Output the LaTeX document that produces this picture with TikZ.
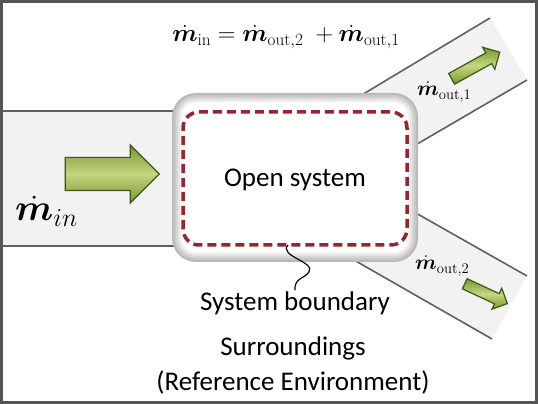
\RequirePackage{fix-cm}
\documentclass[tikz,border=0pt]{standalone}
\usepackage{fontspec}
\usepackage{bm}
\newfontfamily\calibri{Carlito}
\usetikzlibrary{shapes.arrows}
\definecolor{pipefill}{RGB}{242,242,242}
\definecolor{pipeline}{RGB}{95,95,95}
\definecolor{boundred}{RGB}{155,35,48}
\definecolor{arrowlight}{RGB}{196,214,128}
\definecolor{arrowdark}{RGB}{118,150,48}
\definecolor{arrowedge}{RGB}{62,86,22}
\definecolor{framegray}{RGB}{85,85,85}
\tikzset{
  pipe/.style={draw=pipeline, line width=1.6pt},
  flowarrow/.style={single arrow, draw=arrowedge, line width=1.2pt,
    top color=arrowdark, bottom color=arrowdark, middle color=arrowlight,
    inner xsep=0pt},
  txt/.style={font=\calibri\fontsize{27}{32}\selectfont, inner sep=1pt},
}
\begin{document}
\begin{tikzpicture}[x=1pt, y=1pt]
  \useasboundingbox (0,0) rectangle (538,404);
  % pipes
  \fill[pipefill] (3,158) rectangle (200,293);
  \draw[pipe] (3,293) -- (200,293);
  \draw[pipe] (3,158) -- (200,158);
  \fill[pipefill] (330,290) -- (490,386) -- (527,324) -- (400,250) -- cycle;
  \draw[pipe] (330,290) -- (490,386);
  \draw[pipe] (400,250) -- (527,324);
  \fill[pipefill] (400,200) -- (527,128) -- (492,65) -- (340,152) -- cycle;
  \draw[pipe] (400,200) -- (527,128);
  \draw[pipe] (340,152) -- (492,65);
  % open system box
  \foreach \i/\c in {0/55,2/44,4/32,6/20,8/9,10/0}
    \fill[gray!\c, rounded corners={24pt-\i pt}] (172+\i,142+\i) rectangle (418-\i,311-\i);
  \draw[boundred, line width=3.5pt, dash pattern=on 9pt off 5pt, rounded corners=16pt]
    (183,159) rectangle (407,292);
  \coordinate (sq) at (288,159);
  % arrows
  \node[flowarrow, inner ysep=16pt, minimum height=94pt, single arrow head extend=12.5pt] (ain) at (104,230) {};
  \node[flowarrow, inner ysep=5.5pt, minimum height=55pt, single arrow head extend=6.5pt, rotate=29] (aout1) at (473,337) {};
  \node[flowarrow, inner ysep=5pt, minimum height=47pt, single arrow head extend=6pt, rotate=-25] (aout2) at (483.5,111.5) {};
  % texts
  \node[font=\fontsize{24.5}{30}\selectfont, anchor=base, inner sep=0pt] (eq) at (286,362)
    {$\dot{\bm m}_{\mathrm{in}} = \dot{\bm m}_{\mathrm{out{,}2}}\;+\dot{\bm m}_{\mathrm{out{,}1}}$};
  \node[font=\fontsize{37}{40}\selectfont, anchor=base west, inner sep=0pt] (min) at (15,183)
    {$\dot{\bm m}_{in}$};
  \node[font=\fontsize{21}{24}\selectfont, anchor=base west, inner sep=0pt] (mout1) at (417,308)
    {$\dot{\bm m}_{\mathrm{out{,}1}}$};
  \node[font=\fontsize{21}{24}\selectfont, anchor=base west, inner sep=0pt] (mout2) at (415,134)
    {$\dot{\bm m}_{\mathrm{out{,}2}}$};
  \node[txt, anchor=base] (open) at (295,217) {Open system};
  \node[txt] (sb) at (295,101) {System boundary};
  \node[txt] (sur) at (293,56) {Surroundings};
  \node[txt] (env) at (293,22) {(Reference Environment)};
  \draw[line width=1.2pt] (sq) .. controls (278,148) and (316,142) .. (309,132)
    .. controls (304,125) and (294,126) .. (sb.north);
  % frame
  \draw[framegray, line width=3pt] (1.5,1.5) rectangle (536.5,402.5);
\end{tikzpicture}
\end{document}
